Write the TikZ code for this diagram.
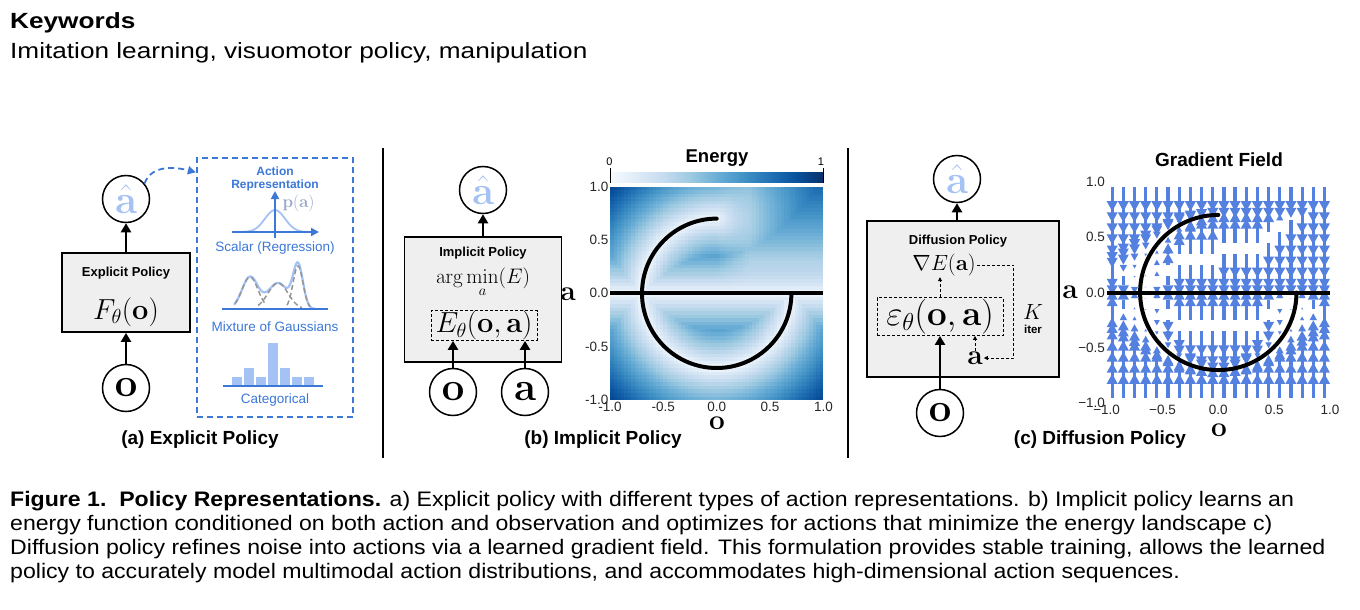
\RequirePackage{fix-cm}
\documentclass[tikz,border=0pt]{standalone}
\usepackage[no-math]{fontspec}
\setmainfont{Liberation Sans}
\newfontfamily\widefont{Liberation Sans}[FakeStretch=1.19]
\newfontfamily\capfont{Liberation Sans}[FakeStretch=1.10]
\usepackage{amsmath}
\usetikzlibrary{arrows.meta,positioning,calc}

\definecolor{repblue}{RGB}{60,120,216}
\definecolor{hatblue}{RGB}{164,194,244}
\definecolor{boxgray}{RGB}{239,239,239}
\definecolor{compgray}{RGB}{150,150,150}
\definecolor{pagray}{RGB}{150,168,200}
\definecolor{qblue}{RGB}{84,128,224}
\definecolor{ticktext}{RGB}{40,40,40}
% Blues colormap
\definecolor{bl0}{RGB}{247,251,255}
\definecolor{bl1}{RGB}{222,235,247}
\definecolor{bl2}{RGB}{198,219,239}
\definecolor{bl3}{RGB}{158,202,225}
\definecolor{bl4}{RGB}{107,174,214}
\definecolor{bl5}{RGB}{66,146,198}
\definecolor{bl6}{RGB}{33,113,181}
\definecolor{bl7}{RGB}{8,81,156}
\definecolor{bl8}{RGB}{8,48,107}

\newcommand{\setfs}[1]{\fontsize{#1}{#1}\selectfont}

\begin{document}
\begin{tikzpicture}[x=1pt,y=-1pt,
  var/.style={draw,circle,line width=1.5pt,minimum size=47pt,inner sep=0pt,font=\setfs{40}},
  policy/.style={draw,fill=boxgray,line width=1.8pt,inner sep=0pt},
  arr/.style={line width=2.6pt,-{Triangle[length=9pt,width=10pt]}},
  darr/.style={line width=0.8pt,dash pattern=on 3pt off 2pt,-{Triangle[length=4pt,width=4pt]}},
  dbox/.style={draw,line width=0.8pt,dash pattern=on 3pt off 2pt},
  ttl/.style={font=\bfseries\setfs{13},anchor=base,inner sep=0pt},
  sub/.style={font=\bfseries\setfs{19},anchor=base,inner sep=0pt},
  rep/.style={font=\setfs{13.5},text=repblue,anchor=base,inner sep=0pt},
  tick/.style={font=\setfs{13.5},text=ticktext,inner sep=1.5pt},
  bluedash/.style={draw=repblue,line width=1.8pt,dash pattern=on 6pt off 4pt},
  curve/.style={line width=4pt},
  capline/.style={anchor=base west,inner sep=0pt,font=\capfont\setfs{21}},
]
\fill[white] (0,0) rectangle (1360,610);
\useasboundingbox (0,0) rectangle (1360,610);

% keywords
\node[anchor=base west,inner sep=0pt,font=\widefont\bfseries\setfs{22}] (kw) at (10,29) {Keywords};
\node[anchor=base west,inner sep=0pt,font=\widefont\setfs{22}] (kwlist) at (10,59) {Imitation learning, visuomotor policy, manipulation};

% separators
\draw[line width=1.5pt] (383,148) -- (383,458);
\draw[line width=1.5pt] (848,148) -- (848,458);

% (a) explicit policy
\node[var,text=hatblue] (ahat1) at (126,199) {$\hat{\mathbf{a}}$};
\node[policy,minimum width=128pt,minimum height=79pt] (pol1) at (126,292.5) {};
\node[ttl] (ttl1) at (126,276.5) {Explicit Policy};
\node[font=\setfs{29}] (f1) at (126,312) {$F_\theta(\mathbf{o})$};
\node[var] (o1) at (126,388) {$\mathbf{o}$};
\draw[arr] (pol1) -- (ahat1);
\draw[arr] (o1) -- (pol1);

\node[bluedash,minimum width=156.5pt,minimum height=258.5pt,inner sep=0pt] (rep) at (275,287.5) {};
\draw[bluedash,-{Triangle[length=8pt,width=8pt]}] (ahat1.40) to[out=70,in=165] ([yshift=-15pt]rep.north west);
\node[font=\bfseries\setfs{12},text=repblue,anchor=base,inner sep=0pt] (rtitle1) at (275,175) {Action};
\node[font=\bfseries\setfs{12},text=repblue,anchor=base,inner sep=0pt] (rtitle2) at (275,188) {Representation};

% scalar
\draw[hatblue,line width=1.8pt] plot[domain=233:317,samples=60] (\x,{232-22*exp(-0.5*((\x-275)/10)^2)});
\draw[repblue,line width=1.8pt,-{Triangle[length=8pt,width=8pt]}] (232,232) -- (319,232);
\draw[repblue,line width=1.8pt,-{Triangle[length=8pt,width=8pt]}] (275,238) -- (275,191);
\node[font=\setfs{17},text=pagray] (pa) at (298.5,203) {$\mathbf{p}(\mathbf{a})$};
\node[rep] (scal) at (275,251) {Scalar (Regression)};

% mixture of gaussians
\draw[hatblue,line width=2.2pt] plot[domain=234:316,samples=80] (\x,{309-32*exp(-0.5*((\x-250)/8)^2)-26*exp(-0.5*((\x-278)/10)^2)-43*exp(-0.5*((\x-298)/5)^2)});
\foreach \camp/\cmu/\csig/\cmin/\cmax in {32/250/8/235/266, 26/278/10/258/302, 43/298/5/287/310}
  \draw[compgray,line width=1.5pt,dash pattern=on 5pt off 3pt] plot[domain=\cmin:\cmax,samples=40] (\x,{309-\camp*exp(-0.5*((\x-\cmu)/\csig)^2)});
\draw[repblue,line width=2pt] (222,309) -- (328,309);
\node[rep] (mog) at (275,331) {Mixture of Gaussians};

% categorical
\foreach \i/\h in {0/9,1/18,2/9,3/43,4/18,5/9,6/9}
  \fill[hatblue] ({232.3+12*\i},386) rectangle ++(10,-\h);
\draw[repblue,line width=2pt] (223,386) -- (323,386);
\node[rep] (cat) at (275,403) {Categorical};
\node[sub] (lbla) at (200,444) {(a) Explicit Policy};

% (b) implicit policy
\node[var,text=hatblue] (ahat2) at (483,190) {$\hat{\mathbf{a}}$};
\node[policy,minimum width=157pt,minimum height=125pt] (pol2) at (483,299.5) {};
\node[ttl] (ttl2) at (483,256) {Implicit Policy};
\node[font=\setfs{21},anchor=base,inner sep=0pt] (amin) at (483,283) {$\arg\min\limits_{a}(E)$};
\node[dbox,font=\setfs{29},minimum width=106pt,minimum height=26pt,inner sep=0.5pt] (ener) at (484,325.5) {$E_\theta(\mathbf{o},\mathbf{a})$};
\node[var] (o2) at (453,392) {$\mathbf{o}$};
\node[var] (a2) at (525,392) {$\mathbf{a}$};
\draw[arr] (pol2) -- (ahat2);
\draw[arr] (o2) -- (o2 |- ener.south);
\draw[arr] (a2) -- (a2 |- ener.south);
\node[sub] (lblb) at (603,444) {(b) Implicit Policy};

% energy landscape
\begin{scope}[shift={(716.7,293.3)},x=106.7pt,y=106.7pt]
  \foreach \i in {0,...,59}{
    \foreach \j in {0,...,59}{
      \pgfmathsetmacro\hmo{-1+(\i+0.5)/30}
      \pgfmathsetmacro\hma{-1+(\j+0.5)/30}
      \pgfmathsetmacro\hmq{and(\hmo>0,\hma>0) ? 1 : 0}
      \pgfmathsetmacro\hmarc{\hmq==1 ? veclen(\hmo,\hma-0.7) : abs(veclen(\hmo,\hma)-0.7)}
      \pgfmathsetmacro\hmw{1-0.35*min(max(\hmo,0)/0.3,1)*min(max(\hma,0)/0.3,1)}
      \pgfmathsetmacro\hmd{min(\hmarc,abs(\hma))}
      \pgfmathsetmacro\hmv{8*min(1.2*\hmw*pow(\hmd,0.75),0.999)}
      \pgfmathtruncatemacro\hmk{floor(\hmv)}
      \pgfmathtruncatemacro\hmkk{\hmk+1}
      \pgfmathsetmacro\hmp{100*(\hmv-\hmk)}
      \fill[fill={bl\hmkk!\hmp!bl\hmk}] (\hmo-0.0172,\hma-0.0172) rectangle (\hmo+0.0172,\hma+0.0172);
    }
  }
  \draw[curve] (-1,0) -- (1,0);
  \draw[curve,line cap=round] (0,0.7) arc[start angle=90,end angle=360,radius=0.7];
  \foreach \k [count=\kn] in {0,...,7}
    \shade[left color=bl\k,right color=bl\kn] ({-1+\k/4},1.038) rectangle ({-1+\kn/4+0.003},1.131);
  \draw[line width=0.8pt] (-1,1.038) -- (-1,1.17);
  \draw[line width=0.8pt] (1,1.038) -- (1,1.17);
  \foreach \t [count=\n] in {1.0,0.5,0.0,-0.5,-1.0}{
    \node[tick,anchor=east] (ey\n) at (-1,\t) {\t};
    \node[tick,anchor=north] (ex\n) at (\t,-1) {\t};
  }
\end{scope}
\node[font=\bfseries\setfs{18.5},anchor=base,inner sep=0pt] (etitle) at (717,162) {Energy};
\node[font=\setfs{11},anchor=base,inner sep=0pt] (ezero) at (609.5,165) {0};
\node[font=\setfs{11},anchor=base,inner sep=0pt] (eone) at (821,165) {1};
\node[font=\setfs{28},inner sep=0pt] (ealbl) at (568,294) {$\mathbf{a}$};
\node[font=\setfs{28},inner sep=0pt] (eolbl) at (717,423) {$\mathbf{o}$};

% (c) diffusion policy
\node[var,text=hatblue] (ahat3) at (957,179) {$\hat{\mathbf{a}}$};
\node[policy,minimum width=192pt,minimum height=156pt] (pol3) at (963,299) {};
\node[ttl] (ttl3) at (958,244) {Diffusion Policy};
\node[font=\setfs{22},inner sep=1pt] (grad) at (944,265) {$\nabla E(\mathbf{a})$};
\node[dbox,font=\setfs{35},minimum width=126pt,minimum height=38pt,inner sep=0.5pt] (eps) at (940,316.5) {$\varepsilon_\theta(\mathbf{o},\mathbf{a})$};
\node[font=\setfs{28},inner sep=1pt] (anoise) at (975,358) {$\mathbf{a}$};
\node[font=\setfs{22},inner sep=0pt] (kit) at (1033,312) {$K$};
\node[font=\bfseries\setfs{11.5},inner sep=0pt] (iter) at (1033,329) {iter};
\node[var] (o3) at (940,413) {$\mathbf{o}$};
\draw[arr] (pol3.north -| ahat3) -- (ahat3);
\draw[arr] (o3) -- (eps);
\draw[darr] (eps.north) -- (eps.north |- grad.south);
\draw[darr] (anoise) -- (anoise |- eps.south);
\draw[darr] (grad.east) -- ++(37,0) |- (anoise.east);
\node[sub] (lblc) at (1100,444) {(c) Diffusion Policy};

% gradient field
\foreach \i in {0,...,19}{
  \foreach \j in {0,...,19}{
    \pgfmathsetmacro\go{-0.95+0.1*\i}
    \pgfmathsetmacro\ga{-0.95+0.1*\j}
    \pgfmathsetmacro\gr{veclen(\go,\ga)}
    \pgfmathsetmacro\gq{and(\go>0,\ga>0) ? 1 : 0}
    \pgfmathsetmacro\gdarc{\gq==1 ? veclen(\go,\ga-0.7) : abs(\gr-0.7)}
    \pgfmathsetmacro\gtarc{\gq==1 ? 0.7 : 0.7*(\ga)/\gr}
    \pgfmathsetmacro\gdel{(\gdarc<abs(\ga)) ? \gtarc-(\ga) : (-1)*(\ga)}
    \pgfmathsetmacro\gL{min(130*abs(\gdel),24)}
    \pgfmathsetmacro\gs{\gdel>0 ? -1 : 1}
    \pgfmathsetmacro\gh{min(\gL,10)}
    \pgfmathsetmacro\gw{5.5*\gh/10}
    \pgfmathsetmacro\gx{1218.3+111.7*(\go)}
    \pgfmathsetmacro\gy{292.5-110.8*(\ga)}
    \pgfmathsetmacro\gb{\gy+(\gs)*(\gL-\gh)}
    \pgfmathsetmacro\gtip{\gy+(\gs)*\gL}
    \fill[qblue] (\gx-1.6,\gy) rectangle (\gx+1.6,\gb);
    \fill[qblue] (\gx-\gw,\gb) -- (\gx+\gw,\gb) -- (\gx,\gtip) -- cycle;
  }
}
\begin{scope}[shift={(1218.3,292.5)},x=111.7pt,y=110.8pt]
  \draw[curve] (-1,0) -- (1,0);
  \draw[curve,line cap=round] (0,0.7) arc[start angle=90,end angle=360,radius=0.7];
  \foreach \t/\lab [count=\n] in {1/1.0,0.5/0.5,0/0.0,-0.5/−0.5,-1/−1.0}{
    \node[tick,anchor=east] (gy\n) at (-1,\t) {\lab};
    \node[tick,anchor=north] (gx\n) at (\t,-1) {\lab};
  }
\end{scope}
\node[font=\bfseries\setfs{19},anchor=base,inner sep=0pt] (gtitle) at (1219,166) {Gradient Field};
\node[font=\setfs{28},inner sep=0pt] (galbl) at (1070,292) {$\mathbf{a}$};
\node[font=\setfs{28},inner sep=0pt] (golbl) at (1219,430) {$\mathbf{o}$};

% caption
\node[capline] (cap1) at (10,506) {\textbf{Figure 1.\ \ Policy Representations.} a) Explicit policy with different types of action representations. b) Implicit policy learns an};
\node[capline] (cap2) at (10,530) {energy function conditioned on both action and observation and optimizes for actions that minimize the energy landscape c)};
\node[capline] (cap3) at (10,554) {Diffusion policy refines noise into actions via a learned gradient field. This formulation provides stable training, allows the learned};
\node[capline] (cap4) at (10,578) {policy to accurately model multimodal action distributions, and accommodates high-dimensional action sequences.};
\end{tikzpicture}
\end{document}
